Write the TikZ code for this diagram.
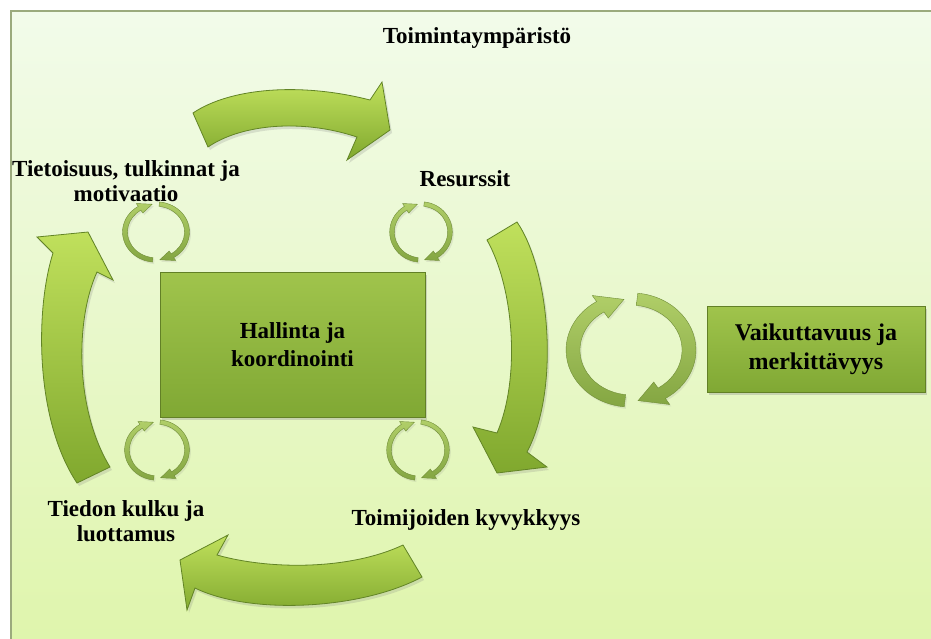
\documentclass[tikz,border=0pt]{standalone}
\usepackage{fontspec}
\setmainfont{Liberation Serif}
\usetikzlibrary{shadows,calc}
\definecolor{bgtop}{RGB}{242,251,234}
\definecolor{bgbot}{RGB}{223,245,172}
\definecolor{framec}{RGB}{155,170,125}
\definecolor{arrlight}{RGB}{192,224,92}
\definecolor{arrdark}{RGB}{128,168,46}
\definecolor{arredge}{RGB}{98,132,38}
\definecolor{boxtop}{RGB}{160,196,76}
\definecolor{boxbot}{RGB}{128,168,52}
\definecolor{boxedge}{RGB}{98,128,38}
\definecolor{cyclight}{RGB}{176,206,104}
\definecolor{cycdark}{RGB}{132,166,66}
\tikzset{
  lbl/.style={font=\fontsize{23}{25}\selectfont\bfseries, align=center, text=black, inner sep=0pt},
  bigarrow/.style={top color=arrlight, bottom color=arrdark, draw=arredge, line width=0.8pt,
    drop shadow={shadow xshift=2pt, shadow yshift=-3pt, opacity=0.22}},
  cycst/.style={top color=cyclight, bottom color=cycdark, draw=cycdark!85!black, line width=0.4pt,
    drop shadow={shadow xshift=1.5pt, shadow yshift=-2pt, opacity=0.15}},
  greenbox/.style={top color=boxtop, bottom color=boxbot, draw=boxedge, line width=1pt,
    drop shadow={shadow xshift=2pt, shadow yshift=-3pt, opacity=0.3},
    font=\fontsize{23}{28}\selectfont\bfseries, align=center, inner sep=0pt}
}
\newcommand\cycpair[6]{%
  \begin{scope}[shift={(#1,#2)},xscale=#3,yscale=#4]
    \foreach \a/\b/\c in {264/122/97,84/-58/-83}{%
      \path[cycst] (\a:{1+#5}) arc[start angle=\a,end angle=\b,radius={1+#5}]
        -- (\b:{1+#6}) -- (\c:1) -- (\b:{1-#6}) -- (\b:{1-#5})
        arc[start angle=\b,end angle=\a,radius={1-#5}] -- cycle;
    }
  \end{scope}}
\begin{document}
\begin{tikzpicture}[x=1pt,y=1pt]
\useasboundingbox (0,0) rectangle (931,-638);
\fill[white] (0,0) rectangle (931,-638);
\shade[top color=bgtop, bottom color=bgbot] (11,-11) rectangle (940,-645);
\draw[framec, line width=2pt] (940,-11) -- (11,-11) -- (11,-645);

% big curved arrows
\path[bigarrow] (208,-147) .. controls (240,-125) and (300,-118) .. (357,-137)
  -- (347,-160) -- (390,-130) -- (382,-82) -- (370,-100)
  .. controls (300,-82) and (230,-88) .. (193,-113) -- cycle;
\path[bigarrow] (517,-222) .. controls (550,-270) and (560,-390) .. (527,-452)
  -- (547,-467) -- (497,-473) -- (473,-427) -- (497,-433)
  .. controls (520,-380) and (515,-290) .. (487,-240) -- cycle;
\path[bigarrow] (422,-577) .. controls (360,-610) and (250,-615) .. (195,-588)
  -- (187,-610) -- (180,-560) -- (228,-535) -- (217,-555)
  .. controls (270,-570) and (350,-570) .. (403,-545) -- cycle;
\path[bigarrow] (77,-483) -- (110,-467) .. controls (75,-410) and (75,-320) .. (97,-272)
  -- (113,-280) -- (88,-232) -- (37,-237) -- (53,-253)
  .. controls (35,-310) and (35,-420) .. (77,-483) -- cycle;

% small cycle arrows
\cycpair{156}{-232}{31}{28}{0.08}{0.2}
\cycpair{421}{-232}{29}{28}{0.08}{0.2}
\cycpair{157}{-450}{30}{28}{0.08}{0.2}
\cycpair{418}{-450}{29}{28}{0.08}{0.2}
% big cycle arrows
\cycpair{631}{-350}{58}{51}{0.12}{0.26}

% boxes
\node[greenbox, minimum width=265pt, minimum height=145pt] (hall) at (292.5,-344.5) {Hallinta ja\\koordinointi};
\node[greenbox, minimum width=218pt, minimum height=86pt, font=\fontsize{24}{29}\selectfont\bfseries] (vaik) at (816,-349) {Vaikuttavuus ja\\merkittävyys};

% labels
\node[lbl] (env) at (477,-38) {Toimintaympäristö};
\node[lbl] (tiet) at (126,-181) {Tietoisuus, tulkinnat ja\\motivaatio};
\node[lbl] (res) at (465,-179) {Resurssit};
\node[lbl] (tied) at (126,-521) {Tiedon kulku ja\\luottamus};
\node[lbl] (toim) at (466,-520) {Toimijoiden kyvykkyys};
\end{tikzpicture}
\end{document}
